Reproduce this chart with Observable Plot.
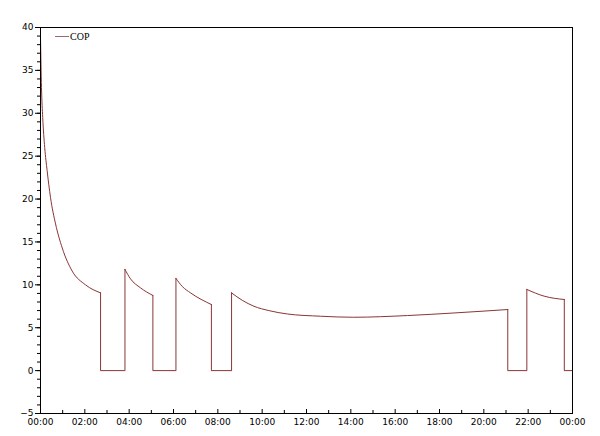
<!DOCTYPE html>
<html>
<head>
<meta charset="utf-8">
<script src="https://cdn.jsdelivr.net/npm/d3@7"></script>
<script src="https://cdn.jsdelivr.net/npm/@observablehq/plot@0.6"></script>
<style>
  html, body { margin: 0; padding: 0; background: #fff; }
  #wrap { position: relative; width: 600px; height: 436px; }
  #legend { position: absolute; left: 55px; top: 31px; font: 10px "Liberation Serif", serif; color: #000; display: flex; align-items: center; }
  #legend .sw { display: inline-block; width: 14px; height: 0; border-top: 1px solid #9a6a6a; margin-right: 1px; }
</style>
</head>
<body>
<div id="wrap"><div id="legend"><span class="sw"></span><span>COP</span></div></div>
<script>
// Time of day in hours (24 = midnight of next day)
const hours = [0, 0.045, 0.10, 0.19, 0.30, 0.45, 0.68, 0.98, 1.43, 2.03, 2.71, 2.71,
  3.81, 3.81, 4.06, 4.51, 5.07, 5.07,
  6.11, 6.11, 6.40, 6.77, 7.71, 7.71,
  8.62, 8.62, 9.10, 9.63, 10.30, 11.14, 12.64, 14.13, 16.56, 18.66, 21.08, 21.08,
  21.94, 21.94, 22.72, 23.63, 23.63, 24];
const cop = [39.0, 33.0, 29.5, 26.0, 23.3, 20.2, 17.1, 14.3, 11.6, 10.0, 9.06, 0,
  0, 11.8, 10.7, 9.65, 8.76, 0,
  0, 10.75, 9.8, 9.06, 7.7, 0,
  0, 9.06, 8.2, 7.5, 7.0, 6.6, 6.34, 6.22, 6.42, 6.72, 7.12, 0,
  0, 9.46, 8.68, 8.29, 0, 0];
const seriesName = "COP";
const xTicks = [0, 2, 4, 6, 8, 10, 12, 14, 16, 18, 20, 22, 24];
const xMinor = [1, 3, 5, 7, 9, 11, 13, 15, 17, 19, 21, 23];
const yTicks = [-5, 0, 5, 10, 15, 20, 25, 30, 35, 40];

// split into smooth runs at the vertical on/off switches
let run = 0;
const data = hours.map((h, i) => {
  if (i > 0 && h === hours[i - 1]) run++;
  return {h, v: cop[i], run, s: seriesName};
});
const steps = hours.map((h, i) => ({h, v0: cop[i - 1], v1: cop[i]}))
  .filter((d, i) => i > 0 && d.h === hours[i - 1]);
const fmt = h => String(Math.round(h) % 24).padStart(2, "0") + ":00";
const col = "#8a3535";

const chart = Plot.plot({
  width: 600,
  height: 436,
  marginLeft: 40,
  marginRight: 28,
  marginTop: 27,
  marginBottom: 23,
  style: {fontFamily: "DejaVu Sans, sans-serif", fontSize: "9px", color: "#000", background: "#fff"},
  x: {domain: [0, 24]},
  y: {domain: [-5, 40]},
  marks: [
    Plot.line(data, {x: "h", y: "v", z: "run", stroke: col, strokeWidth: 1, curve: "monotone-x"}),
    Plot.ruleX(steps, {x: "h", y1: "v0", y2: "v1", stroke: col, strokeWidth: 1}),
    Plot.axisY({ticks: yTicks, tickSize: 5, tickPadding: 2, label: null, stroke: "#000"}),
    Plot.axisY({ticks: d3.range(-5, 41, 1), tickSize: 3, text: null, label: null, stroke: "#000"}),
    Plot.axisX({ticks: xTicks, tickSize: -4, text: null, label: null, stroke: "#000"}),
    Plot.axisX({ticks: xMinor, tickSize: -3, text: null, label: null, stroke: "#000"}),
    Plot.axisX({ticks: xTicks, tickSize: 0, tickPadding: 5, tickFormat: fmt, label: null}),
    Plot.frame({stroke: "#000"})
  ]
});
document.getElementById("wrap").prepend(chart);
</script>
</body>
</html>
